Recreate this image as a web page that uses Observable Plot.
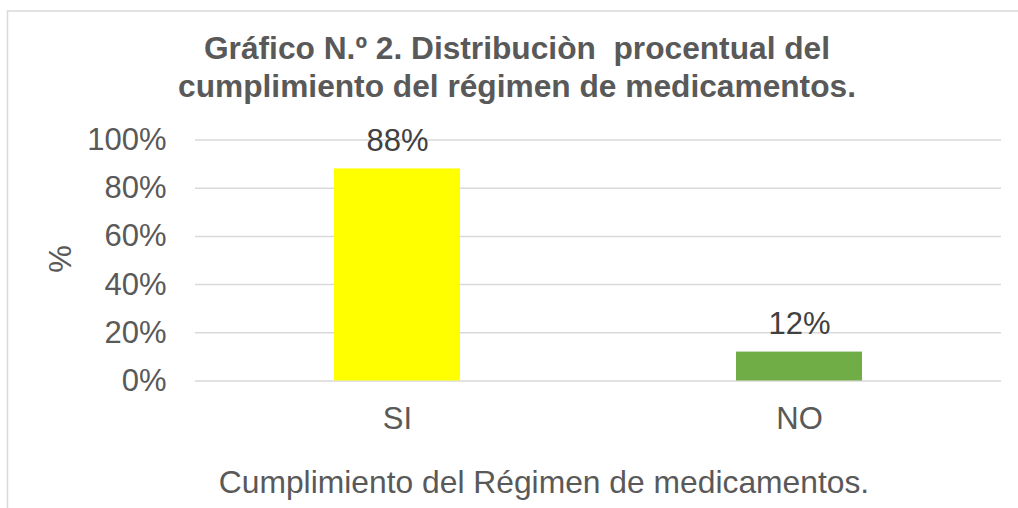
<!DOCTYPE html>
<html>
<head>
<meta charset="utf-8">
<script src="https://cdn.jsdelivr.net/npm/d3@7"></script>
<script src="https://cdn.jsdelivr.net/npm/@observablehq/plot@0.6"></script>
<style>
  html, body { margin: 0; padding: 0; background: #fff; }
  #chart { width: 1018px; height: 508px; overflow: hidden; }
</style>
</head>
<body>
<div id="chart"></div>
<script>
const categories = ["SI", "NO"];
const values = [0.88, 0.12];
const barColors = ["#FFFF00", "#70AD47"];
const valueLabels = ["88%", "12%"];
const yTicks = [0, 0.2, 0.4, 0.6, 0.8, 1.0];
const titleLines = ["Gráfico N.º 2. Distribuciòn  procentual del", "cumplimiento del régimen de medicamentos."];
const xTitle = "Cumplimiento del Régimen de medicamentos.";
const yTitle = "%";

const data = categories.map((c, i) => ({cat: c, value: values[i], color: barColors[i], label: valueLabels[i]}));

const font = "'Liberation Sans', Arial, sans-serif";

const chart = Plot.plot({
  width: 1018,
  height: 508,
  marginLeft: 195,
  marginRight: 17,
  marginTop: 139.5,
  marginBottom: 127.5,
  style: {fontFamily: font, background: "#fff", overflow: "visible"},
  x: {domain: categories, paddingInner: 0.6873, paddingOuter: 0.3437, align: 0.5, label: null},
  y: {domain: [0, 1], label: null},
  marks: [
    Plot.gridY(yTicks, {stroke: "#d9d9d9", strokeOpacity: 1, strokeWidth: 1.5}),
    Plot.axisY({ticks: yTicks, tickFormat: d3.format(".0%"), tickSize: 0, tickPadding: 29, fontSize: 31, fill: "#595959", label: null}),
    Plot.axisX({tickSize: 0, tickPadding: 26, fontSize: 31, fill: "#595959", label: null}),
    Plot.barY(data, {x: "cat", y: "value", fill: "color"}),
    Plot.text(data, {x: "cat", y: "value", text: "label", lineAnchor: "bottom", dy: -18, fontSize: 31, fill: "#404040"})
  ]
});

document.getElementById("chart").appendChild(chart);

const svg = d3.select(chart);
// chart border
svg.append("rect")
  .attr("x", 7.5).attr("y", 11).attr("width", 1030).attr("height", 520)
  .attr("fill", "none").attr("stroke", "#d9d9d9").attr("stroke-width", 1.5);

// title
const t = svg.append("text")
  .attr("text-anchor", "middle")
  .attr("font-family", font)
  .attr("font-size", 31.7)
  .attr("font-weight", "bold")
  .attr("fill", "#595959")
  .style("white-space", "pre");
titleLines.forEach((line, i) => {
  t.append("tspan").attr("x", 517).attr("y", 59 + i * 38).text(line);
});

// x axis title
svg.append("text")
  .attr("x", 544).attr("y", 493)
  .attr("text-anchor", "middle")
  .attr("font-family", font)
  .attr("font-size", 31.8)
  .attr("fill", "#595959")
  .text(xTitle);

// y axis title
svg.append("text")
  .attr("transform", "translate(71,259) rotate(-90)")
  .attr("text-anchor", "middle")
  .attr("font-family", font)
  .attr("font-size", 31)
  .attr("fill", "#595959")
  .text(yTitle);
</script>
</body>
</html>
